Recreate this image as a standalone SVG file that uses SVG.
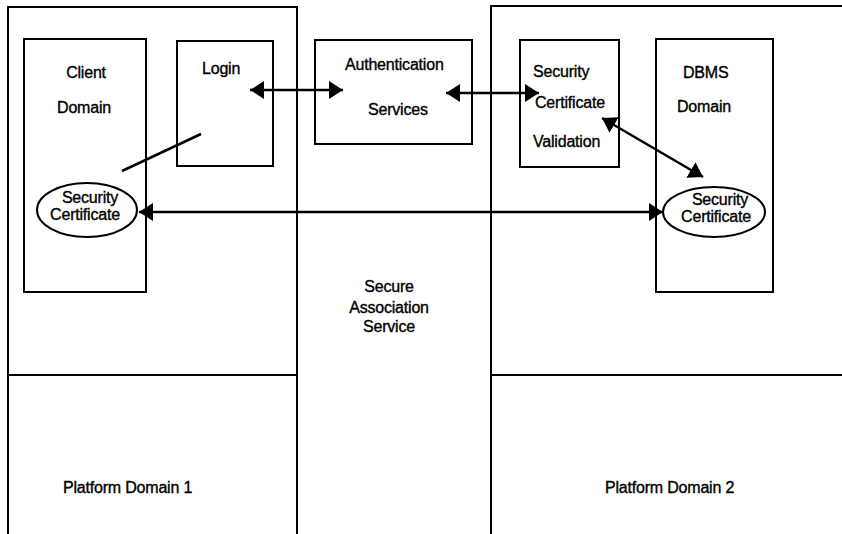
<svg xmlns="http://www.w3.org/2000/svg" width="842" height="534" viewBox="0 0 842 534">
  <style>
    .box { fill: none; stroke: #000; stroke-width: 2; }
    .conn { fill: none; stroke: #000; stroke-width: 2.5; }
    text { font-family: "Liberation Sans", Arial, sans-serif; font-size: 16px; fill: #000; stroke: #000; stroke-width: 0.35; letter-spacing: -0.2px; }
    .mid { text-anchor: middle; }
  </style>
  <defs>
    <marker id="head" markerUnits="userSpaceOnUse" markerWidth="15" markerHeight="18" refX="14" refY="9" orient="auto-start-reverse">
      <path d="M0,0 L14,9 L0,18 z" fill="#000"/>
    </marker>
  </defs>

  <rect width="842" height="534" fill="#fff"/>

  <!-- platform domain 1 (open at the bottom) -->
  <g id="platform1">
    <path class="box" d="M8,534 V7 H297 V534"/>
    <line class="box" x1="8" y1="375" x2="297" y2="375"/>
    <text x="63" y="493">Platform Domain 1</text>
  </g>

  <!-- platform domain 2 (open at the bottom and right) -->
  <g id="platform2">
    <path class="box" d="M491,534 V6 H842"/>
    <line class="box" x1="491" y1="375" x2="842" y2="375"/>
    <text x="605" y="493">Platform Domain 2</text>
  </g>

  <g id="secure-association">
    <text class="mid" x="389" y="292">Secure</text>
    <text class="mid" x="389" y="313">Association</text>
    <text class="mid" x="389" y="332">Service</text>
  </g>

  <g id="client-domain">
    <rect class="box" x="24" y="39" width="122" height="253"/>
    <text class="mid" x="86" y="78">Client</text>
    <text class="mid" x="84" y="113">Domain</text>
  </g>

  <g id="client-cert">
    <ellipse class="box" cx="87" cy="210" rx="50" ry="27"/>
    <text class="mid" x="90" y="203">Security</text>
    <text class="mid" x="85" y="220">Certificate</text>
  </g>

  <g id="login">
    <rect class="box" x="177" y="41" width="96" height="125"/>
    <text x="202" y="74">Login</text>
  </g>

  <g id="authentication">
    <rect class="box" x="315" y="40" width="157" height="104"/>
    <text x="345" y="70">Authentication</text>
    <text x="368" y="115">Services</text>
  </g>

  <g id="cert-validation">
    <rect class="box" x="520" y="40" width="99" height="127"/>
    <text x="533" y="77">Security</text>
    <text x="535" y="108">Certificate</text>
    <text x="533" y="147">Validation</text>
  </g>

  <g id="dbms-domain">
    <rect class="box" x="656" y="39" width="117" height="253"/>
    <text x="683" y="78">DBMS</text>
    <text x="677" y="112">Domain</text>
  </g>

  <g id="dbms-cert">
    <ellipse class="box" cx="714" cy="212" rx="51" ry="25"/>
    <text class="mid" x="720" y="205">Security</text>
    <text class="mid" x="716" y="222">Certificate</text>
  </g>

  <g id="connectors">
    <line class="conn" x1="250" y1="90" x2="343" y2="90" marker-start="url(#head)" marker-end="url(#head)"/>
    <line class="conn" x1="446" y1="93" x2="539" y2="93" marker-start="url(#head)" marker-end="url(#head)"/>
    <line class="conn" x1="139" y1="212" x2="663" y2="212" marker-start="url(#head)" marker-end="url(#head)"/>
    <line class="conn" x1="602" y1="118" x2="703" y2="177" marker-start="url(#head)" marker-end="url(#head)"/>
    <line class="conn" x1="201" y1="134" x2="122" y2="171"/>
  </g>
</svg>
